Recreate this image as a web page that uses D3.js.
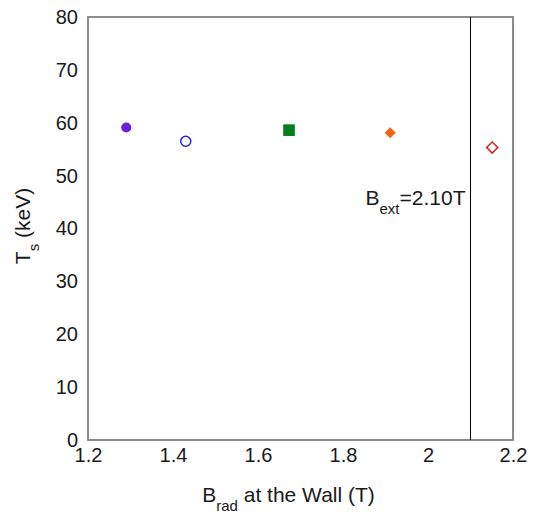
<!DOCTYPE html>
<html>
<head>
<meta charset="utf-8">
<script src="https://cdn.jsdelivr.net/npm/d3@7"></script>
<style>
  body { margin: 0; background: #fff; }
  svg text { font-family: "Liberation Sans", Arial, sans-serif; fill: #1a1a1a; }
</style>
</head>
<body>
<svg id="chart"></svg>
<script>
// data
const bRad = [1.29, 1.43, 1.673, 1.911, 2.151];
const tS = [59.1, 56.5, 58.6, 58.1, 55.3];
const shapes = ["circle", "circle", "square", "diamond", "diamond"];
const filled = [true, false, true, true, false];
const colors = ["#6a1fd8", "#2424e6", "#007f1a", "#f26511", "#d62222"];
const xTicks = [1.2, 1.4, 1.6, 1.8, 2, 2.2];
const yTicks = [0, 10, 20, 30, 40, 50, 60, 70, 80];
const bExt = 2.10;

var svgWidth = 538, svgHeight = 514,
    margin = { top: 17, right: 25, bottom: 74, left: 88 },
    width = svgWidth - margin.left - margin.right,
    height = svgHeight - margin.top - margin.bottom;

const svg = d3.select("#chart")
    .attr("width", svgWidth)
    .attr("height", svgHeight);

const g = svg.append("g")
    .attr("transform", "translate(" + [margin.left, margin.top] + ")");

const x = d3.scaleLinear().domain([1.2, 2.2]).range([0, width]);
const y = d3.scaleLinear().domain([0, 80]).range([height, 0]);

// frame
g.append("rect")
    .attr("x", 0).attr("y", 0)
    .attr("width", width).attr("height", height)
    .attr("fill", "none")
    .attr("stroke", "#808080")
    .attr("stroke-width", 1.8);

// axes (labels only)
const xAxis = g.append("g")
    .attr("transform", "translate(0," + height + ")")
    .call(d3.axisBottom(x).tickValues(xTicks).tickSize(0).tickPadding(7)
        .tickFormat(d3.format("")));
const yAxis = g.append("g")
    .call(d3.axisLeft(y).tickValues(yTicks).tickSize(0).tickPadding(10));
[xAxis, yAxis].forEach(function (a) {
    a.select(".domain").remove();
    a.selectAll("text").style("font-size", "20px")
        .style("font-family", "'Liberation Sans', Arial, sans-serif")
        .attr("fill", "#1a1a1a");
});
xAxis.selectAll("text").attr("dy", "0.75em");

// B_ext line
g.append("line")
    .attr("x1", x(bExt)).attr("x2", x(bExt))
    .attr("y1", 0).attr("y2", height)
    .attr("stroke", "#000")
    .attr("stroke-width", 1);

const ann = g.append("text")
    .attr("x", x(bExt) - 5)
    .attr("y", y(44.5))
    .attr("text-anchor", "end")
    .style("font-size", "21px");
ann.append("tspan").text("B");
ann.append("tspan").attr("dy", 9).style("font-size", "15px").text("ext");
ann.append("tspan").attr("dy", -9).text("=2.10T");

// points
const symType = { circle: d3.symbolCircle, square: d3.symbolSquare, diamond: d3.symbolSquare };
const symSize = { circle: 80, square: 135, diamond: 62 };
g.selectAll(".pt")
    .data(bRad)
    .enter()
    .append("path")
    .classed("pt", true)
    .attr("transform", function (d, i) {
        return "translate(" + [x(d), y(tS[i])] + ")" + (shapes[i] === "diamond" ? " rotate(45)" : "");
    })
    .attr("d", function (d, i) { return d3.symbol().type(symType[shapes[i]]).size(symSize[shapes[i]])(); })
    .attr("fill", function (d, i) { return filled[i] ? colors[i] : "#fff"; })
    .attr("stroke", function (d, i) { return colors[i]; })
    .attr("stroke-width", function (d, i) { return filled[i] ? 0 : 1.5; });

// axis titles
const xt = g.append("text")
    .attr("x", width / 2 - 12)
    .attr("y", height + 62)
    .attr("text-anchor", "middle")
    .style("font-size", "21px");
xt.append("tspan").text("B");
xt.append("tspan").attr("dy", 9).style("font-size", "15px").text("rad");
xt.append("tspan").attr("dy", -9).text(" at the Wall (T)");

const yt = g.append("text")
    .attr("transform", "translate(" + [-58, 209] + ") rotate(-90)")
    .attr("text-anchor", "middle")
    .style("font-size", "21px");
yt.append("tspan").text("T");
yt.append("tspan").attr("dy", 9).style("font-size", "15px").text("s");
yt.append("tspan").attr("dy", -9).text(" (keV)");
</script>
</body>
</html>
